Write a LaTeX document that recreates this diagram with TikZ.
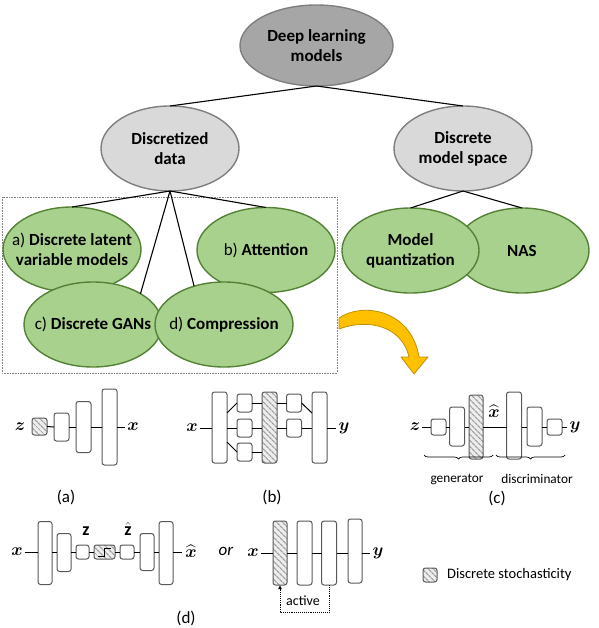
\documentclass[tikz,border=0pt]{standalone}
\usepackage{amsmath}
\usepackage{fontspec}
\setmainfont{Carlito}
\usetikzlibrary{shapes.geometric,patterns.meta,decorations.pathreplacing,arrows.meta,calc}
\definecolor{gfill}{HTML}{A9D18E}
\definecolor{gline}{HTML}{548235}
\definecolor{dgfill}{HTML}{A6A6A6}
\definecolor{lgfill}{HTML}{D9D9D9}
\definecolor{grline}{HTML}{7F7F7F}
\definecolor{boxc}{HTML}{595959}
\definecolor{hbg}{HTML}{EDEDED}
\definecolor{hline}{HTML}{A0A0A0}
\definecolor{ofill}{HTML}{FFC000}
\definecolor{oline}{HTML}{BF9000}
\begin{document}
\begin{tikzpicture}[x=1pt,y=-1pt,
  ell/.style={ellipse, inner sep=-40pt, outer sep=0pt, align=center, line width=1.4pt},
  topn/.style={ell, draw=grline, fill=dgfill, font=\fontsize{17}{20}\selectfont\bfseries},
  midn/.style={ell, draw=grline, fill=lgfill, minimum width=138pt, minimum height=85pt, font=\fontsize{17}{20}\selectfont\bfseries},
  leaf/.style={ell, draw=gline, fill=gfill, minimum width=138pt, minimum height=85pt, font=\fontsize{17}{20}\selectfont\bfseries},
  tline/.style={black, line width=1.1pt},
  blk/.style={draw=boxc, rounded corners=2.5pt, line width=1pt, minimum width=15pt, inner sep=0pt, outer sep=0pt},
  wblk/.style={blk, fill=white},
  hblk/.style={blk, preaction={fill=hbg}, pattern={Lines[angle=-45,distance=4pt,line width=1.3pt]}, pattern color=hline},
  lab/.style={inner sep=2pt, font=\fontsize{18}{18}\selectfont},
  conn/.style={black, line width=1pt},
  capt/.style={font=\fontsize{17}{17}\selectfont},
  smalltext/.style={font=\fontsize{13.3}{14}\selectfont}
]
\useasboundingbox (0,0) rectangle (598,628);

% ---------- tree ----------
\node[topn, minimum width=153pt, minimum height=81pt] (deep) at (316.5,45.5) {Deep learning\\models};
\node[midn] (dd) at (170,148.5) {Discretized\\data};
\node[midn] (dm) at (463,148.5) {Discrete\\model space};

\draw[gray, densely dotted, line width=0.6pt] (2,197) rectangle (337,373);

\node[leaf] (la) at (72,249.5) {\textmd{a)} Discrete latent\\variable models};
\node[leaf] (lb) at (266,250) {\textmd{b)} Attention};
\node[leaf] (lc) at (93,324.5) {\textmd{c)} Discrete GANs};
\node[leaf] (ld) at (224,324.5) {\textmd{d)} Compression};
\node[leaf, minimum width=134pt] (nas) at (522,250.5) {NAS};
\node[leaf, minimum width=137pt] (mq) at (410.5,250.5) {Model\\quantization};

\draw[tline] (deep.south) -- (dd.north);
\draw[tline] (deep.south) -- (dm.north);
\draw[tline] (dd.south) -- (la.north);
\draw[tline] (dd.south) -- (lb.north);
\draw[tline] (dd.south) -- (lc.33);
\draw[tline] (dd.south) -- (ld.128);
\draw[tline] (dm.south) -- (mq.north);
\draw[tline] (dm.south) -- (nas.north);

% orange curved arrow
\draw[fill=ofill, draw=oline, line width=0.8pt, line join=round]
  (339,318) .. controls (362,302) and (411,309) .. (419,357) -- (428,357) -- (414,374)
  -- (401,357) -- (409,357) .. controls (402,326) and (368,318) .. (339,329) -- cycle;

% ---------- (a) ----------
\node[lab] (za) at (20,427) {$\boldsymbol{z}$};
\node[hblk, minimum height=17pt] (a1) at (39.5,426.5) {};
\node[wblk, minimum height=28pt] (a2) at (61.5,427) {};
\node[wblk, minimum height=51pt] (a3) at (83.5,427) {};
\node[wblk, minimum height=76pt] (a4) at (109.5,427) {};
\node[lab] (xa) at (133,427) {$\boldsymbol{x}$};
\draw[conn] (a1.east) -- (a2.west);
\draw[conn] (a2.east) -- (a3.west);
\draw[conn] (a3.east) -- (a4.west);
\draw[conn] (a4.east) -- (xa.west);
\node[capt] (capa) at (66,497) {(a)};

% ---------- (b) ----------
\node[lab] (xb) at (192,428) {$\boldsymbol{x}$};
\node[wblk, minimum height=71pt] (b1) at (219.5,427.5) {};
\node[wblk, minimum height=18pt] (b2t) at (244.5,403) {};
\node[wblk, minimum height=18pt] (b2m) at (244.5,428) {};
\node[wblk, minimum height=18pt] (b2b) at (244.5,452) {};
\node[hblk, minimum height=71pt] (b3) at (269.5,427.5) {};
\node[wblk, minimum height=18pt] (b4t) at (294,403) {};
\node[wblk, minimum height=18pt] (b4m) at (294,428) {};
\node[wblk, minimum height=71pt] (b5) at (319.5,427.5) {};
\node[lab] (yb) at (344,428) {$\boldsymbol{y}$};
\draw[conn] (xb.east) -- (xb.east -| b1.west);
\draw[conn] ([yshift=14.5pt]b1.east) -- (b2t.west);
\draw[conn] (b2m.west -| b1.east) -- (b2m.west);
\draw[conn] ([yshift=-14.5pt]b1.east) -- (b2b.west);
\draw[conn] (b2t.east) -- (b2t.east -| b3.west);
\draw[conn] (b2m.east) -- (b2m.east -| b3.west);
\draw[conn] (b2b.east) -- (b2b.east -| b3.west);
\draw[conn] (b4t.west -| b3.east) -- (b4t.west);
\draw[conn] (b4m.west -| b3.east) -- (b4m.west);
\draw[conn] (b4t.east) -- ([yshift=14.5pt]b5.west);
\draw[conn] (b4m.east) -- (b4m.east -| b5.west);
\draw[conn] (b5.east |- yb.west) -- (yb.west);
\node[capt] (capb) at (272,497) {(b)};

% ---------- (c) ----------
\node[lab] (zc) at (415,427) {$\boldsymbol{z}$};
\node[wblk, minimum height=16pt] (c1) at (438.5,427) {};
\node[wblk, minimum height=39pt] (c2) at (457,426.5) {};
\node[hblk, minimum height=64pt, minimum width=14pt] (c3) at (476,427) {};
\node[wblk, minimum height=67pt] (c4) at (514,425.5) {};
\node[wblk, minimum height=39pt] (c5) at (534.5,426.5) {};
\node[wblk, minimum height=16pt] (c6) at (554.5,427) {};
\node[lab] (yc) at (575,427) {$\boldsymbol{y}$};
\node[lab, inner sep=0pt] (xhc) at (494,411) {$\widehat{\boldsymbol{x}}$};
\draw[conn] (zc.east) -- (c1.west);
\draw[conn] (c1.east) -- (c1.east -| c2.west);
\draw[conn] (c2.east |- c1.east) -- (c1.east -| c3.west);
\draw[conn] (c3.east |- c1.east) -- (c1.east -| c4.west);
\draw[conn] (c4.east |- c1.east) -- (c1.east -| c5.west);
\draw[conn] (c5.east |- c1.east) -- (c6.west);
\draw[conn] (c6.east) -- (yc.west);
\draw[black, line width=0.7pt, decorate, decoration={brace, amplitude=4pt, mirror}] (424,455) -- (493,455);
\draw[black, line width=0.7pt, decorate, decoration={brace, amplitude=4pt, mirror}] (496,455) -- (565,455);
\node[smalltext] (gen) at (457,479) {generator};
\node[smalltext] (dis) at (537,479) {discriminator};
\node[capt] (capc) at (497,498) {(c)};

% ---------- (d) left ----------
\node[lab] (xd) at (17,552) {$\boldsymbol{x}$};
\node[wblk, minimum height=63pt, minimum width=14pt] (d1) at (45,553) {};
\node[wblk, minimum height=38pt, minimum width=14pt] (d2) at (64,552.5) {};
\node[wblk, minimum height=14pt, minimum width=13pt] (dz) at (82.5,552) {};
\node[hblk, minimum height=14pt, minimum width=21pt] (ds) at (104.5,552) {};
\node[wblk, minimum height=14pt, minimum width=14pt] (dzh) at (127,552) {};
\node[wblk, minimum height=37pt, minimum width=14pt] (d3) at (147,552) {};
\node[wblk, minimum height=63pt, minimum width=14pt] (d4) at (166,553) {};
\node[lab, inner sep=0pt] (xhd) at (191,551) {$\widehat{\boldsymbol{x}}$};
\node[lab] (zl) at (86,531) {$\mathbf{z}$};
\node[lab] (zhl) at (128,529) {$\hat{\mathbf{z}}$};
\draw[black, line width=1pt] (98,556) -- (104.5,556) -- (104.5,548) -- (111,548);
\draw[conn] (xd.east |- dz.west) -- (dz.west -| d1.west);
\draw[conn] (dz.west -| d1.east) -- (dz.west -| d2.west);
\draw[conn] (dz.west -| d2.east) -- (dz.west);
\draw[conn] (dz.east) -- (ds.west);
\draw[conn] (ds.east) -- (dzh.west);
\draw[conn] (dzh.east) -- (dzh.east -| d3.west);
\draw[conn] (dzh.east -| d3.east) -- (dzh.east -| d4.west);
\draw[conn] (dzh.east -| d4.east) -- ([xshift=-3pt]dzh.east -| xhd.west);
\node[font=\fontsize{17}{17}\selectfont\itshape] (or) at (226,551) {or};
\node[capt] (capd) at (186,618) {(d)};

% ---------- (d) right ----------
\node[lab] (xe) at (253,553) {$\boldsymbol{x}$};
\node[hblk, minimum height=64pt, minimum width=14pt] (e1) at (280,553) {};
\node[wblk, minimum height=64pt] (e2) at (304.5,553) {};
\node[wblk, minimum height=64pt] (e3) at (329,553) {};
\node[wblk, minimum height=64pt, minimum width=14pt] (e4) at (355,551) {};
\node[lab] (ye) at (378,553) {$\boldsymbol{y}$};
\draw[conn] (xe.east) -- (e1.west);
\draw[conn] (e1.east) -- (e2.west);
\draw[conn] (e2.east) -- (e3.west);
\draw[conn] (e3.east) -- (e3.east -| e4.west);
\draw[conn] (e3.east -| e4.east) -- (ye.west);
\draw[black, densely dotted, line width=0.9pt, -{Latex[length=4pt,width=4pt]}] (e3.south) -- ++(0,27) -| (e1.south);
\node[font=\fontsize{14}{14}\selectfont] (act) at (303,601) {active};

% ---------- legend ----------
\node[hblk, minimum height=14pt, minimum width=14pt] (leg) at (430,575) {};
\node[anchor=west, inner sep=0pt, font=\fontsize{14.5}{15}\selectfont] (legt) at (447,575) {Discrete stochasticity};
\end{tikzpicture}
\end{document}
